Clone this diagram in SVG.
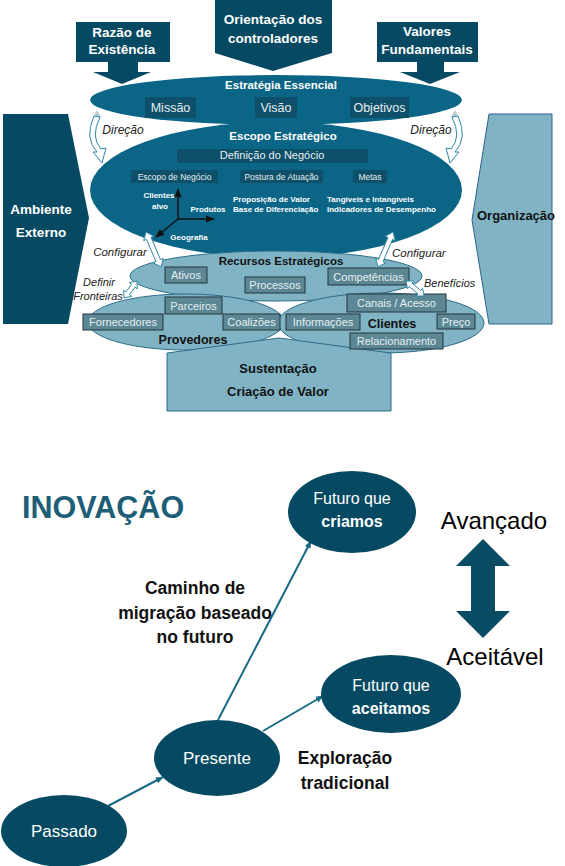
<svg xmlns="http://www.w3.org/2000/svg" width="565" height="866" viewBox="0 0 565 866">
<defs>
<style>
.dk{fill:#054A62}
.md{fill:#0B6586}
.lt{fill:#80B4C4;stroke:#2C6B88;stroke-width:1}
.bx{fill:#0E4F69}
.sb{fill:#5C8895;stroke:#22343C;stroke-width:1}
.wa{fill:#FFFFFF;stroke:#2E87A8;stroke-width:1}
text{font-family:"Liberation Sans",Arial,sans-serif}
.tw{fill:#FFFFFF;font-weight:bold;text-anchor:middle}
.tb{fill:#111111;font-weight:bold;text-anchor:middle}
.tr{fill:#E6EEF1;text-anchor:middle}
.ti{fill:#222222;font-style:italic}
.ax{stroke:#111111;stroke-width:1.5;fill:none}
.ln{stroke:#1A6A86;stroke-width:2;fill:none}
</style>
<marker id="ah" viewBox="0 0 10 10" refX="9" refY="5" markerWidth="6" markerHeight="6" orient="auto"><path d="M0,1 L10,5 L0,9 z" fill="#111111"/></marker>
<marker id="ah2" viewBox="0 0 10 10" refX="9" refY="5" markerWidth="4" markerHeight="4" orient="auto"><path d="M0,1 L10,5 L0,9 z" fill="#1A6A86"/></marker>
</defs>
<rect width="565" height="866" fill="#FFFFFF"/>

<g id="ambiente-externo">
<polygon class="dk" points="3,114 68,114 89,218 68,324 3,324"/>
<text class="tw" x="41" y="214" font-size="13.5">Ambiente</text>
<text class="tw" x="41" y="237" font-size="13.5">Externo</text>
</g>
<g id="organizacao">
<polygon points="489,114 552,114 552,324 489,324 472,220" fill="#80B4C4" stroke="#2F5F8F" stroke-width="1"/>
<text class="tb" x="516" y="220" font-size="13">Organização</text>
</g>

<g id="razao-existencia">
<polygon class="dk" points="76,22 170,22 170,62 138,62 138,72 151,72 122,84 93,72 108,72 108,62 76,62"/>
<text class="tw" x="122" y="37" font-size="13.5">Razão de</text>
<text class="tw" x="122" y="54" font-size="13.5">Existência</text>
</g>
<g id="orientacao-controladores">
<polygon class="dk" points="215,0 332,0 332,53 273,71 215,53"/>
<text class="tw" x="273" y="24" font-size="13.5">Orientação dos</text>
<text class="tw" x="273" y="43" font-size="13.5">controladores</text>
</g>
<g id="valores-fundamentais">
<polygon class="dk" points="377,22 478,22 478,62 444,62 444,72 460,72 430,84 400,72 417,72 417,62 377,62"/>
<text class="tw" x="427" y="36" font-size="13.5">Valores</text>
<text class="tw" x="427" y="54" font-size="13.5">Fundamentais</text>
</g>

<g id="estrategia-essencial">
<ellipse class="md" cx="276" cy="100" rx="186" ry="25"/>
<text class="tw" x="281" y="89" font-size="11.5">Estratégia Essencial</text>
<rect class="bx" x="145" y="97" width="51" height="21"/>
<text class="tr" x="170.5" y="112" font-size="12.5">Missão</text>
<rect class="bx" x="255" y="97" width="42" height="21"/>
<text class="tr" x="276" y="112" font-size="12.5">Visão</text>
<rect class="bx" x="350" y="97" width="59" height="21"/>
<text class="tr" x="379.5" y="112" font-size="12.5">Objetivos</text>
</g>

<g id="escopo-estrategico">
<ellipse class="md" cx="276" cy="190" rx="186" ry="68"/>
<text class="tw" x="283" y="140" font-size="11.5">Escopo Estratégico</text>
<rect class="bx" x="177" y="149" width="191" height="14"/>
<text class="tr" x="272" y="159" font-size="11">Definição do Negócio</text>
<rect class="bx" x="131" y="170" width="87" height="13"/>
<text class="tr" x="174.5" y="179.5" font-size="8.5">Escopo de Negócio</text>
<rect class="bx" x="240" y="170" width="83" height="13"/>
<text class="tr" x="281.5" y="179.5" font-size="8.5">Postura de Atuação</text>
<rect class="bx" x="353" y="170" width="34" height="13"/>
<text class="tr" x="370" y="179.5" font-size="8.5">Metas</text>
<text class="tw" x="159" y="198" font-size="8">Clientes</text>
<text class="tw" x="160" y="209" font-size="8">alvo</text>
<text class="tw" x="208" y="212" font-size="8">Produtos</text>
<text class="tw" x="189" y="240" font-size="8">Geografia</text>
<text class="tw" x="233" y="202" font-size="8" style="text-anchor:start">Proposição de Valor</text>
<text class="tw" x="233" y="212" font-size="8" style="text-anchor:start">Base de Diferenciação</text>
<text class="tw" x="327" y="202" font-size="8" style="text-anchor:start">Tangíveis e Intangíveis</text>
<text class="tw" x="327" y="212" font-size="8" style="text-anchor:start">Indicadores de Desempenho</text>
<line class="ax" x1="178" y1="219" x2="178" y2="189" marker-end="url(#ah)"/>
<line class="ax" x1="178" y1="219" x2="214" y2="219" marker-end="url(#ah)"/>
<line class="ax" x1="178" y1="219" x2="156" y2="237" marker-end="url(#ah)"/>
</g>

<g id="recursos-estrategicos">
<ellipse class="lt" cx="276" cy="276" rx="146" ry="25"/>
<text class="tb" x="281" y="265" font-size="11.5">Recursos Estratégicos</text>
<rect class="sb" x="165" y="267" width="42" height="16"/>
<text class="tr" x="186" y="279" font-size="11">Ativos</text>
<rect class="sb" x="245" y="277" width="60" height="16"/>
<text class="tr" x="275" y="289" font-size="11">Processos</text>
<rect class="sb" x="328" y="268" width="81" height="17"/>
<text class="tr" x="368.5" y="280.5" font-size="11">Competências</text>
</g>

<g id="provedores">
<ellipse class="lt" cx="186" cy="322" rx="98" ry="28"/>
<text class="tb" x="193" y="344" font-size="12.5">Provedores</text>
</g>
<g id="clientes">
<ellipse class="lt" cx="381" cy="323" rx="103" ry="30"/>
<text class="tb" x="392" y="328" font-size="12.5">Clientes</text>
</g>
<g id="sustentacao">
<polygon points="167,353 279,338 391,353 391,411 167,411" fill="#80B4C4" stroke="#2C6B88" stroke-width="1"/>
<text class="tb" x="278" y="373" font-size="13">Sustentação</text>
<text class="tb" x="278" y="396" font-size="13">Criação de Valor</text>
</g>
<g id="provedores-itens">
<rect class="sb" x="165" y="297" width="57" height="17"/>
<text class="tr" x="193.5" y="309.5" font-size="11">Parceiros</text>
<rect class="sb" x="83" y="314" width="80" height="16"/>
<text class="tr" x="123" y="326" font-size="11">Fornecedores</text>
<rect class="sb" x="223" y="314" width="57" height="16"/>
<text class="tr" x="251.5" y="326" font-size="11">Coalizões</text>
</g>
<g id="clientes-itens">
<rect class="sb" x="286" y="314" width="74" height="16"/>
<text class="tr" x="323" y="326" font-size="11">Informações</text>
<rect class="sb" x="347" y="294" width="99" height="18"/>
<text class="tr" x="396.5" y="307" font-size="11">Canais / Acesso</text>
<rect class="sb" x="437" y="314" width="38" height="15"/>
<text class="tr" x="456" y="325.5" font-size="11">Preço</text>
<rect class="sb" x="350" y="333" width="93" height="16"/>
<text class="tr" x="396.5" y="345" font-size="11">Relacionamento</text>
</g>

<g id="connectors">
<polygon points="97,110 101,117 94,116" fill="#BFC8CC"/>
<path class="wa" d="M94,116 Q84,138 97,152 L93,152 L102,163 L106,148 L101,149 Q90,137 100,117 Z"/>
<polygon points="455,110 451,117 458,116" fill="#BFC8CC"/>
<path class="wa" d="M458,116 Q468,138 455,152 L459,152 L450,163 L446,148 L451,149 Q462,137 452,117 Z"/>
<polygon class="wa" points="146,232 143.71,240.6 146.46,239.42 155.94,261.56 153.19,262.74 161,267 163.29,258.4 160.54,259.59 151.06,237.45 153.81,236.26"/>
<polygon class="wa" points="393,232 385.19,236.26 387.94,237.45 378.46,259.59 375.71,258.4 378,267 385.81,262.74 383.06,261.56 392.54,239.42 395.29,240.6"/>
<polygon class="wa" points="137,281 129.39,282.73 131.61,284.43 125.89,291.9 123.67,290.2 124,298 131.61,296.28 129.39,294.58 135.11,287.11 137.33,288.81"/>
<polygon class="wa" points="406,281 407.41,288.68 409.2,286.53 417.98,293.85 416.19,296 424,296 422.59,288.32 420.8,290.47 412.02,283.15 413.81,281"/>
<text class="ti" x="123" y="134" font-size="12" text-anchor="middle">Direção</text>
<text class="ti" x="431" y="134" font-size="12" text-anchor="middle">Direção</text>
<text class="ti" x="120" y="256" font-size="11.5" text-anchor="middle">Configurar</text>
<text class="ti" x="392" y="257" font-size="11.5">Configurar</text>
<text class="ti" x="99" y="286" font-size="11" text-anchor="middle">Definir</text>
<text class="ti" x="98" y="300" font-size="11" text-anchor="middle">Fronteiras</text>
<text class="ti" x="424" y="287" font-size="11">Benefícios</text>
<line class="ln" x1="108" y1="806" x2="163" y2="777" marker-end="url(#ah2)"/>
<line class="ln" x1="218" y1="720" x2="311" y2="541" marker-end="url(#ah2)"/>
<line class="ln" x1="263" y1="731" x2="323" y2="696" marker-end="url(#ah2)"/>
<polygon points="483,539 510,566 495,566 495,611 510,611 483,638 456,611 471,611 471,566 456,566" fill="#0A4C63"/>
</g>

<g id="titulo">
<text x="22" y="518" font-size="30.5" font-weight="bold" fill="#1D5E76">INOVAÇÃO</text>
</g>
<g id="futuro-criamos">
<ellipse class="dk" cx="352" cy="512" rx="64" ry="41"/>
<text class="tr" x="352" y="504" font-size="16" style="fill:#FFFFFF">Futuro que</text>
<text class="tw" x="352" y="527" font-size="16">criamos</text>
</g>
<g id="futuro-aceitamos">
<ellipse class="dk" cx="391" cy="694" rx="70" ry="39"/>
<text class="tr" x="391" y="691" font-size="16" style="fill:#FFFFFF">Futuro que</text>
<text class="tw" x="391" y="714" font-size="16">aceitamos</text>
</g>
<g id="presente">
<ellipse class="dk" cx="217" cy="758" rx="63" ry="38"/>
<text class="tr" x="217" y="764" font-size="17" style="fill:#FFFFFF">Presente</text>
</g>
<g id="passado">
<ellipse class="dk" cx="64" cy="831" rx="63" ry="36"/>
<text class="tr" x="64" y="837" font-size="17" style="fill:#FFFFFF">Passado</text>
</g>
<g id="rotulos">
<text x="494" y="529" font-size="24" fill="#000000" text-anchor="middle">Avançado</text>
<text x="495" y="665" font-size="24" fill="#000000" text-anchor="middle">Aceitável</text>
<text class="tb" x="195" y="594" font-size="17.5">Caminho de</text>
<text class="tb" x="195" y="619" font-size="17.5">migração baseado</text>
<text class="tb" x="195" y="643" font-size="17.5">no futuro</text>
<text class="tb" x="345" y="764" font-size="17.5">Exploração</text>
<text class="tb" x="345" y="789" font-size="17.5">tradicional</text>
</g>
</svg>
